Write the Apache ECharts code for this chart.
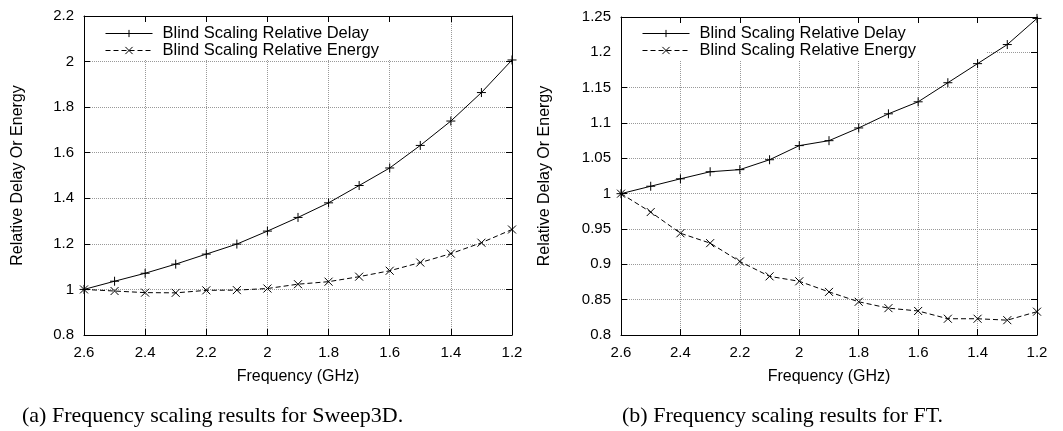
<!DOCTYPE html>
<html>
<head>
<meta charset="utf-8">
<script src="https://cdn.jsdelivr.net/npm/echarts@6/dist/echarts.min.js"></script>
<style>
  html, body { margin: 0; padding: 0; background: #fff; }
  #main { width: 1063px; height: 431px; }
</style>
</head>
<body>
<div id="main"></div>
<script>
// frequency steps (GHz), same for both plots
var freqs = [2.6, 2.5, 2.4, 2.3, 2.2, 2.1, 2.0, 1.9, 1.8, 1.7, 1.6, 1.5, 1.4, 1.3, 1.2];
// (a) Sweep3D
var sweepDelay  = [1.0, 1.036, 1.071, 1.111, 1.155, 1.199, 1.256, 1.316, 1.380, 1.456, 1.533, 1.632, 1.739, 1.864, 2.007];
var sweepEnergy = [1.0, 0.993, 0.986, 0.985, 0.996, 0.997, 1.004, 1.023, 1.034, 1.056, 1.082, 1.118, 1.157, 1.205, 1.263];
// (b) FT
var ftDelay  = [1.0, 1.0105, 1.021, 1.031, 1.034, 1.048, 1.068, 1.075, 1.093, 1.113, 1.130, 1.157, 1.184, 1.211, 1.248];
var ftEnergy = [1.0, 0.974, 0.944, 0.930, 0.904, 0.883, 0.876, 0.861, 0.847, 0.838, 0.834, 0.823, 0.823, 0.821, 0.833];

var nameDelay = 'Blind Scaling Relative Delay';
var nameEnergy = 'Blind Scaling Relative Energy';
var captions = ['(a) Frequency scaling results for Sweep3D.', '(b) Frequency scaling results for FT.'];

var PLUS = 'path://M5,0L5,10M0,5L10,5';
var CROSS = 'path://M0,0L10,10M10,0L0,10';
var font = 'Liberation Sans, Arial, sans-serif';
var serif = 'Liberation Serif, Times New Roman, serif';

function pairs(ys) {
    var out = [];
    for (var i = 0; i < freqs.length; i++) out.push([freqs[i], ys[i]]);
    return out;
}

var dom = document.getElementById('main');
var myChart = echarts.init(dom);

function xAxes(g) {
    return [
        {
            type: 'value', gridIndex: g, min: 1.2, max: 2.6, interval: 0.2, inverse: true,
            name: 'Frequency (GHz)', nameLocation: 'middle', nameGap: 34,
            nameTextStyle: { color: '#000', fontSize: 16, fontFamily: font },
            axisLine: { lineStyle: { color: '#000', width: 1 } },
            axisTick: { inside: true, length: 6, lineStyle: { color: '#000' } },
            axisLabel: { color: '#000', fontSize: 15, fontFamily: font, margin: 10 },
            splitLine: { show: true, lineStyle: { color: '#999', type: 'dotted', width: 1 } }
        },
        {   // top border, mirrored ticks
            type: 'value', gridIndex: g, min: 1.2, max: 2.6, interval: 0.2, inverse: true, position: 'top',
            z: 10,
            axisLine: { lineStyle: { color: '#000', width: 1 } },
            axisTick: { inside: true, length: 6, lineStyle: { color: '#000' } },
            axisLabel: { show: false },
            splitLine: { show: false }
        }
    ];
}

function yAxes(g, min, max, step, gap) {
    return [
        {
            type: 'value', gridIndex: g, min: min, max: max, interval: step,
            name: 'Relative Delay Or Energy', nameLocation: 'middle', nameGap: gap,
            nameTextStyle: { color: '#000', fontSize: 16, fontFamily: font },
            axisLine: { show: true, lineStyle: { color: '#000', width: 1 } },
            axisTick: { show: true, inside: true, length: 6, lineStyle: { color: '#000' } },
            axisLabel: { color: '#000', fontSize: 15, fontFamily: font, margin: 10 },
            splitLine: { show: true, lineStyle: { color: '#999', type: 'dotted', width: 1 } }
        },
        {   // right border, mirrored ticks
            type: 'value', gridIndex: g, min: min, max: max, interval: step, position: 'right',
            z: 10,
            axisLine: { show: true, lineStyle: { color: '#000', width: 1 } },
            axisTick: { show: true, inside: true, length: 6, lineStyle: { color: '#000' } },
            axisLabel: { show: false },
            splitLine: { show: false }
        }
    ];
}

function lineSeries(name, g, ys, dashed) {
    return {
        name: name,
        type: 'line',
        xAxisIndex: g * 2,
        yAxisIndex: g * 2,
        data: pairs(ys),
        symbol: dashed ? CROSS : PLUS,
        symbolSize: dashed ? 8 : 9,
        showSymbol: true,
        animation: false,
        itemStyle: { color: '#000', borderColor: '#000', borderWidth: 1 },
        lineStyle: { color: '#000', width: 1, type: dashed ? [5, 3] : 'solid' },
        z: 5
    };
}

function legendAt(left, padRight) {
    return {
        data: [nameDelay, nameEnergy],
        orient: 'vertical',
        left: left, top: 18,
        itemWidth: 47, itemHeight: 9, itemGap: 0,
        padding: [7, padRight, 1, 20],
        backgroundColor: '#fff',
        selectedMode: false,
        lineStyle: { width: 1 },
        itemStyle: { borderWidth: 1 },
        textStyle: { color: '#000', fontSize: 16.5, lineHeight: 16, fontFamily: font, padding: [0, 0, 0, 5] },
        z: 3
    };
}

option = {
    backgroundColor: '#fff',
    animation: false,
    title: [
        { text: captions[0], left: 22, top: 405, padding: 0,
          textStyle: { fontFamily: serif, fontWeight: 'normal', fontSize: 22, color: '#000' } },
        { text: captions[1], left: 622, top: 405, padding: 0,
          textStyle: { fontFamily: serif, fontWeight: 'normal', fontSize: 22, color: '#000' } }
    ],
    grid: [
        { left: 84, top: 16, width: 428, height: 319 },
        { left: 621, top: 17, width: 416, height: 318 }
    ],
    legend: [legendAt(85, 58), legendAt(622, 70)],
    xAxis: xAxes(0).concat(xAxes(1)),
    yAxis: yAxes(0, 0.8, 2.2, 0.2, 58).concat(yAxes(1, 0.8, 1.25, 0.05, 68)),
    series: [
        lineSeries(nameDelay, 0, sweepDelay, false),
        lineSeries(nameEnergy, 0, sweepEnergy, true),
        lineSeries(nameDelay, 1, ftDelay, false),
        lineSeries(nameEnergy, 1, ftEnergy, true)
    ]
};

if (option && typeof option === "object") {
    myChart.setOption(option, true);
}
</script>
</body>
</html>
